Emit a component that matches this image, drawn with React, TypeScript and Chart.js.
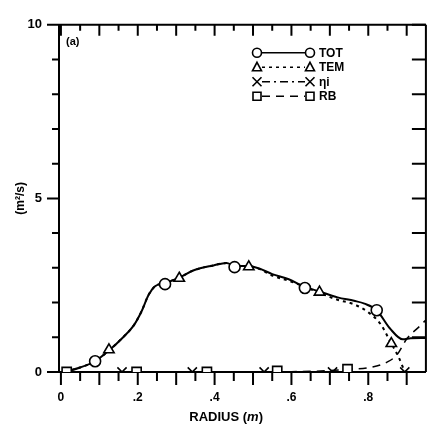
import { useEffect, useRef } from "react";
import { Chart, registerables } from "chart.js";

Chart.register(...registerables);

// ---- axes ----
const xMin = -0.005;
const xMax = 0.95;
const yMin = 0;
const yMax = 10;
const xLabelTicks = [0, 0.2, 0.4, 0.6, 0.8];
const xMinorTicks = [0, 0.05, 0.1, 0.15, 0.2, 0.25, 0.3, 0.35, 0.4, 0.45, 0.5, 0.55, 0.6, 0.65, 0.7, 0.75, 0.8, 0.85, 0.9];
const yTickValues = [0, 1, 2, 3, 4, 5, 6, 7, 8, 9, 10];
const yLabelTicks = [0, 5, 10];

// ---- series: TOT (solid) ----
const totX = [0.01, 0.05, 0.089, 0.125, 0.16, 0.19, 0.21, 0.228, 0.245, 0.271, 0.308, 0.346, 0.397, 0.431, 0.452, 0.489, 0.516, 0.55, 0.593, 0.635, 0.673, 0.72, 0.763, 0.79, 0.822, 0.856, 0.89, 0.91, 0.95];
const totY = [0, 0.13, 0.31, 0.62, 0.98, 1.35, 1.75, 2.22, 2.47, 2.56, 2.72, 2.93, 3.07, 3.14, 3.06, 3.05, 2.98, 2.82, 2.67, 2.45, 2.32, 2.15, 2.05, 1.97, 1.78, 1.26, 0.94, 0.97, 0.98];
const totMarkX = [0.089, 0.271, 0.452, 0.635, 0.822];
const totMarkY = [0.31, 2.53, 3.02, 2.42, 1.78];

// ---- series: TEM (dotted) ----
const temX = [0.01, 0.05, 0.089, 0.125, 0.16, 0.19, 0.21, 0.228, 0.245, 0.271, 0.308, 0.346, 0.397, 0.431, 0.452, 0.489, 0.516, 0.55, 0.6, 0.673, 0.72, 0.763, 0.8, 0.832, 0.86, 0.879, 0.892, 0.9, 0.95];
const temY = [0, 0.13, 0.31, 0.62, 0.98, 1.35, 1.75, 2.22, 2.47, 2.56, 2.72, 2.93, 3.07, 3.14, 3.06, 3.05, 2.97, 2.78, 2.6, 2.28, 2.08, 1.95, 1.72, 1.38, 0.82, 0.43, 0.1, 0, 0];
const temMarkX = [0.125, 0.308, 0.489, 0.673, 0.86];
const temMarkY = [0.64, 2.7, 3.03, 2.3, 0.82];

// ---- series: eta_i (dash-dot) ----
const etaX = [0.0, 0.95];
const etaY = [0, 0];
const etaMarkX = [0.159, 0.342, 0.529, 0.707, 0.895];
const etaMarkY = [0, 0, 0, 0, 0];

// ---- series: RB (dashed) ----
const rbX = [0.01, 0.3, 0.6, 0.7, 0.746, 0.8, 0.85, 0.875, 0.9, 0.935, 0.95];
const rbY = [0, 0, 0.01, 0.04, 0.08, 0.12, 0.29, 0.5, 0.95, 1.33, 1.5];
const rbMarkX = [0.015, 0.197, 0.38, 0.563, 0.746];
const rbMarkY = [0, 0, 0, 0.03, 0.08];

const legendNames = ["TOT", "TEM", "\u03b7i", "RB"];
const legendDash = [[], [3, 4], [8, 4, 2, 4], [8, 6]];
const legendMarker = ["circle", "triangle", "crossRot", "rect"];

const FONT = "'Liberation Sans', Arial, Helvetica, sans-serif";

const zip = (xs: number[], ys: number[]) => xs.map((x, i) => ({ x, y: ys[i] }));

function drawMarker(ctx: CanvasRenderingContext2D, style: string, x: number, y: number) {
  ctx.save();
  ctx.setLineDash([]);
  ctx.lineWidth = 1.6;
  ctx.strokeStyle = "#000";
  ctx.fillStyle = "#fff";
  ctx.beginPath();
  if (style === "circle") {
    ctx.arc(x, y, 4.5, 0, Math.PI * 2);
    ctx.fill();
    ctx.stroke();
  } else if (style === "triangle") {
    ctx.moveTo(x, y - 5);
    ctx.lineTo(x + 4.5, y + 3.5);
    ctx.lineTo(x - 4.5, y + 3.5);
    ctx.closePath();
    ctx.fill();
    ctx.stroke();
  } else if (style === "crossRot") {
    ctx.moveTo(x - 4.5, y - 4.5);
    ctx.lineTo(x + 4.5, y + 4.5);
    ctx.moveTo(x + 4.5, y - 4.5);
    ctx.lineTo(x - 4.5, y + 4.5);
    ctx.stroke();
  } else {
    ctx.rect(x - 4, y - 4, 8, 8);
    ctx.fill();
    ctx.stroke();
  }
  ctx.restore();
}

const decorPlugin = {
  id: "decor",
  afterDraw(chart: any) {
    const ctx: CanvasRenderingContext2D = chart.ctx;
    const { left, right, top, bottom } = chart.chartArea;
    const xs = chart.scales.x;
    const ys = chart.scales.y;
    ctx.save();
    ctx.strokeStyle = "#000";
    ctx.setLineDash([]);
    // frame top / right
    ctx.lineWidth = 2;
    ctx.beginPath();
    ctx.moveTo(left, top);
    ctx.lineTo(right, top);
    ctx.moveTo(right, top);
    ctx.lineTo(right, bottom);
    ctx.stroke();
    // x ticks: bottom outward, top inward
    ctx.lineWidth = 2;
    xMinorTicks.forEach((v) => {
      const px = xs.getPixelForValue(v);
      const major = Math.abs(v * 10 - Math.round(v * 10)) < 1e-6;
      ctx.beginPath();
      ctx.moveTo(px, bottom);
      ctx.lineTo(px, bottom + (major ? 13 : 9));
      ctx.moveTo(px, top);
      ctx.lineTo(px, top + (major ? 11 : 6));
      ctx.stroke();
    });
    // y ticks: left outward, right inward
    yTickValues.forEach((v) => {
      const py = ys.getPixelForValue(v);
      const major = yLabelTicks.includes(v);
      ctx.beginPath();
      ctx.moveTo(left, py);
      ctx.lineTo(left - (major ? 12 : 7), py);
      ctx.moveTo(right, py);
      ctx.lineTo(right - 14, py);
      ctx.stroke();
    });
    // panel label
    ctx.fillStyle = "#000";
    ctx.font = `bold 11px ${FONT}`;
    ctx.textAlign = "left";
    ctx.textBaseline = "middle";
    ctx.fillText("(a)", left + 7, top + 17);
    // x axis title with italic unit
    ctx.font = `bold 13px ${FONT}`;
    const p1 = "RADIUS (";
    const p3 = ")";
    const w1 = ctx.measureText(p1).width;
    ctx.font = `italic bold 13px ${FONT}`;
    const p2 = "m";
    const w2 = ctx.measureText(p2).width;
    ctx.font = `bold 13px ${FONT}`;
    const w3 = ctx.measureText(p3).width;
    const cx = xs.getPixelForValue(0.43);
    let tx = cx - (w1 + w2 + w3) / 2;
    const ty = bottom + 45;
    ctx.fillText(p1, tx, ty);
    tx += w1;
    ctx.font = `italic bold 13px ${FONT}`;
    ctx.fillText(p2, tx, ty);
    tx += w2;
    ctx.font = `bold 13px ${FONT}`;
    ctx.fillText(p3, tx, ty);
    // legend
    const lx1 = left + 198;
    const lx2 = left + 251;
    const ly0 = top + 28;
    const lstep = 14.5;
    legendNames.forEach((name, i) => {
      const y = ly0 + i * lstep;
      ctx.save();
      ctx.lineWidth = 1.6;
      ctx.setLineDash(legendDash[i]);
      ctx.beginPath();
      ctx.moveTo(lx1 + 5, y);
      ctx.lineTo(lx2 - 5, y);
      ctx.stroke();
      ctx.restore();
      drawMarker(ctx, legendMarker[i], lx1, y);
      drawMarker(ctx, legendMarker[i], lx2, y);
      ctx.fillStyle = "#000";
      ctx.font = `bold 12px ${FONT}`;
      ctx.textAlign = "left";
      ctx.textBaseline = "middle";
      ctx.fillText(name, lx2 + 9, y + 0.5);
    });
    ctx.restore();
  },
};

export default function App() {
  const ref = useRef<HTMLCanvasElement | null>(null);
  useEffect(() => {
    if (!ref.current) return;
    const lineDs = (data: any, dash: number[], width: number) => ({
      type: "line",
      data,
      borderColor: "#000",
      borderWidth: width,
      borderDash: dash,
      pointRadius: 0,
      tension: 0.35,
      cubicInterpolationMode: "monotone",
      fill: false,
      order: 2,
    });
    const markDs = (data: any, style: string, r: number) => ({
      type: "line",
      data,
      showLine: false,
      pointStyle: style,
      pointRadius: r,
      pointBackgroundColor: "#fff",
      pointBorderColor: "#000",
      pointBorderWidth: 1.6,
      order: 1,
    });
    const chart = new Chart(ref.current, {
      type: "line",
      data: {
        datasets: [
          lineDs(zip(totX, totY), [], 2),
          lineDs(zip(temX, temY), [3, 4], 2),
          lineDs(zip(etaX, etaY), [8, 4, 2, 4], 1.5),
          lineDs(zip(rbX, rbY), [8, 6], 1.5),
          markDs(zip(totMarkX, totMarkY), "circle", 5.5),
          markDs(zip(temMarkX, temMarkY), "triangle", 6),
          markDs(zip(etaMarkX, etaMarkY), "crossRot", 6.5),
          markDs(zip(rbMarkX, rbMarkY), "rect", 6.5),
        ] as any,
      },
      options: {
        animation: false,
        responsive: false,
        maintainAspectRatio: false,
        layout: { padding: { top: 13, right: 1, left: 0, bottom: 0 } },
        plugins: { legend: { display: false }, tooltip: { enabled: false } },
        scales: {
          x: {
            type: "linear",
            min: xMin,
            max: xMax,
            grid: { display: false, drawTicks: false },
            border: { display: true, color: "#000", width: 2 },
            afterBuildTicks: (s: any) => {
              s.ticks = xLabelTicks.map((v) => ({ value: v }));
            },
            afterFit: (s: any) => {
              s.height = 62;
            },
            ticks: {
              autoSkip: false,
              maxRotation: 0,
              padding: 18,
              color: "#000",
              font: { family: FONT, size: 12, weight: "bold" },
              callback: (v: any) => (Number(v) === 0 ? "0" : String(Number(v).toFixed(1)).replace(/^0/, "")),
            },
          },
          y: {
            type: "linear",
            min: yMin,
            max: yMax,
            grid: { display: false, drawTicks: false },
            border: { display: true, color: "#000", width: 2 },
            afterBuildTicks: (s: any) => {
              s.ticks = yLabelTicks.map((v) => ({ value: v }));
            },
            afterFit: (s: any) => {
              s.width = 59;
            },
            ticks: {
              autoSkip: false,
              padding: 17,
              color: "#000",
              font: { family: FONT, size: 13, weight: "bold" },
              callback: (v: any) => String(v),
            },
            title: {
              display: true,
              text: "(m\u00b2/s)",
              color: "#000",
              font: { family: FONT, size: 12, weight: "bold" },
              padding: { top: 13, bottom: 0 },
            },
          },
        },
      } as any,
      plugins: [decorPlugin],
    });
    return () => chart.destroy();
  }, []);
  return (
    <div style={{ position: "fixed", left: 0, top: 0, width: 434, height: 434, background: "#fff" }}>
      <canvas ref={ref} width={434} height={434} style={{ width: 434, height: 434, display: "block" }} />
    </div>
  );
}
